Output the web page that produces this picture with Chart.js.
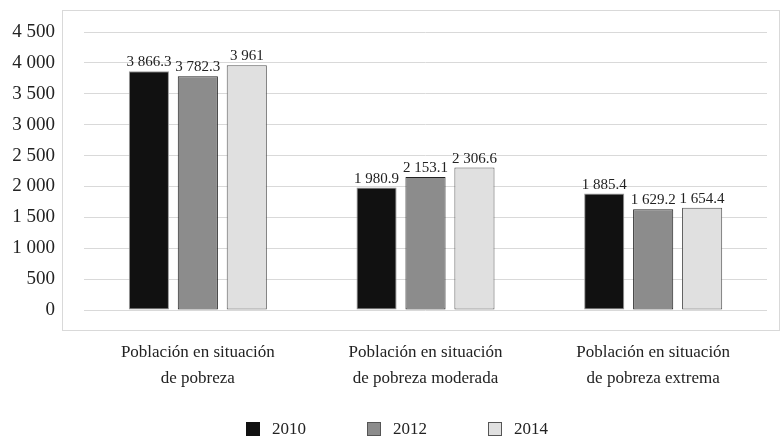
<!DOCTYPE html>
<html>
<head>
<meta charset="utf-8">
<script src="https://cdn.jsdelivr.net/npm/chart.js@4"></script>
<style>
  html, body { margin: 0; padding: 0; background: #fff; overflow: hidden; }
  #wrap { position: relative; width: 780px; height: 437px; }
  #legend { position: absolute; left: 246px; top: 421px; height: 16px; white-space: nowrap;
            font-family: 'Liberation Serif', 'DejaVu Serif', serif; font-size: 17px; color: #222; line-height: 16px; }
  #legend .item { display: inline-block; width: 121px; }
  #legend .box { display: inline-block; width: 14px; height: 14px; vertical-align: -2px; margin-right: 12px; }
</style>
</head>
<body>
<div id="wrap">
  <canvas id="chart" width="780" height="437"></canvas>
  <div id="legend"></div>
</div>
<script>
// Data
const categories = [
    ["Población en situación", "de pobreza"],
    ["Población en situación", "de pobreza moderada"],
    ["Población en situación", "de pobreza extrema"]
];
const years = ["2010", "2012", "2014"];
const values2010 = [3866.3, 1980.9, 1885.4];
const values2012 = [3782.3, 2153.1, 1629.2];
const values2014 = [3961, 2306.6, 1654.4];
const yTicks = [0, 500, 1000, 1500, 2000, 2500, 3000, 3500, 4000, 4500];

const fills = ["#111111", "#8c8c8c", "#e0e0e0"];
const edges = ["#9a9a9a", "#222222", "#555555"];
const FONT = "'Liberation Serif', 'DejaVu Serif', serif";

// thousands separated by a space, like the original
function fmt(v) {
    let parts = String(v).split(".");
    parts[0] = parts[0].replace(/\B(?=(\d{3})+(?!\d))/g, " ");
    return parts.join(".");
}

// light frame around the plot, as in the source chart
const framePlugin = {
    id: "frame",
    beforeDraw(chart) {
        const a = chart.chartArea;
        const ctx = chart.ctx;
        ctx.save();
        ctx.strokeStyle = "#d9d9d9";
        ctx.lineWidth = 1;
        ctx.strokeRect(Math.round(a.left - 22) + 0.5, Math.round(a.top - 22) + 0.5,
                       Math.round(a.right - a.left + 34), Math.round(a.bottom - a.top + 42));
        ctx.restore();
    }
};

// value labels on top of the bars
const valueLabels = {
    id: "valueLabels",
    afterDatasetsDraw(chart) {
        const ctx = chart.ctx;
        ctx.save();
        ctx.font = "15px " + FONT;
        ctx.fillStyle = "#222";
        ctx.textAlign = "center";
        ctx.textBaseline = "alphabetic";
        chart.data.datasets.forEach((ds, i) => {
            chart.getDatasetMeta(i).data.forEach((bar, j) => {
                ctx.fillText(fmt(ds.data[j]), bar.x, bar.y - 5);
            });
        });
        ctx.restore();
    }
};

const series = [values2010, values2012, values2014];

const ctx = document.getElementById("chart").getContext("2d");
const chart = new Chart(ctx, {
    type: "bar",
    data: {
        labels: categories,
        datasets: series.map((vals, i) => ({
            label: years[i],
            data: vals,
            backgroundColor: fills[i],
            borderColor: edges[i],
            borderWidth: 1,
            borderSkipped: false,
            categoryPercentage: 0.645,
            barPercentage: 0.82
        }))
    },
    options: {
        responsive: false,
        animation: false,
        layout: { padding: { top: 32, right: 13, left: 0, bottom: 37 } },
        plugins: {
            legend: { display: false },
            tooltip: { enabled: false }
        },
        scales: {
            x: {
                afterFit(scale) { scale.height = 90; },
                grid: { display: false },
                border: { display: false },
                ticks: {
                    color: "#222",
                    font: { family: FONT, size: 17, lineHeight: "26px" },
                    padding: 22,
                    maxRotation: 0,
                    autoSkip: false
                }
            },
            y: {
                min: 0,
                max: 4500,
                afterBuildTicks(scale) {
                    scale.ticks = yTicks.map(v => ({ value: v }));
                },
                afterFit(scale) {
                    scale.width = 84;
                    scale.paddingTop = 0;
                    scale.paddingBottom = 0;
                },
                grid: { color: "#d9d9d9", drawTicks: false },
                border: { display: false },
                ticks: {
                    color: "#222",
                    autoSkip: false,
                    font: { family: FONT, size: 19 },
                    padding: 29,
                    callback: v => fmt(v)
                }
            }
        }
    },
    plugins: [framePlugin, valueLabels]
});

// legend under the chart
const legendEl = document.getElementById("legend");
chart.data.datasets.forEach((d, i) => {
    const item = document.createElement("span");
    item.className = "item";
    const box = document.createElement("span");
    box.className = "box";
    box.style.background = fills[i];
    box.style.border = "1px solid " + (i === 0 ? "#111" : "#555");
    box.style.boxSizing = "border-box";
    item.appendChild(box);
    item.appendChild(document.createTextNode(d.label));
    legendEl.appendChild(item);
});
</script>
</body>
</html>
